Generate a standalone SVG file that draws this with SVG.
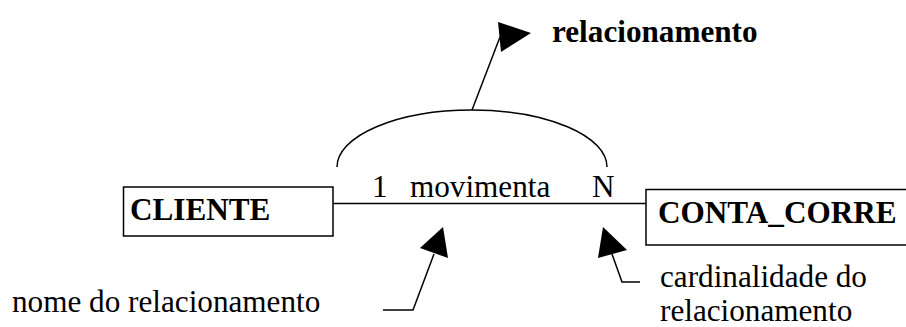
<svg xmlns="http://www.w3.org/2000/svg" width="906" height="327" viewBox="0 0 906 327">
  <style>
    .box { fill: #ffffff; stroke: #000000; stroke-width: 1.5; }
    .ln { fill: none; stroke: #000000; stroke-width: 1.5; }
    .head { fill: #000000; stroke: none; }
    text { font-family: "Liberation Serif", Tinos, "Times New Roman", Times, "DejaVu Serif", "Noto Serif", serif; font-size: 31.2px; fill: #000000; }
    .ent, .title { font-weight: bold; }
  </style>
  <rect width="906" height="327" fill="#ffffff"/>

  <g id="connectors">
    <!-- relationship line between the two entities -->
    <line class="ln" x1="333" y1="203.5" x2="646" y2="203.5"/>
    <!-- bracket over the relationship -->
    <path class="ln" d="M 337 167 A 135 57 0 0 1 607 167"/>
    <!-- pointer to "relacionamento" -->
    <line class="ln" x1="472" y1="110" x2="500" y2="37"/>
    <polygon class="head" points="498,22 531,33 501,52"/>
    <!-- pointer from "nome do relacionamento" -->
    <polyline class="ln" points="383,310 413,310 434,254"/>
    <polygon class="head" points="443,227 420,248 448,258"/>
    <!-- pointer from "cardinalidade do relacionamento" -->
    <polyline class="ln" points="640,282 622,282 612,254"/>
    <polygon class="head" points="603,227 598,258 627,250"/>
  </g>

  <g id="cliente">
    <rect class="box" x="123.5" y="187" width="209.5" height="49"/>
    <text class="ent" x="130" y="220">CLIENTE</text>
  </g>

  <g id="conta_corrente">
    <rect class="box" x="646" y="189.5" width="270" height="55.5"/>
    <text class="ent" x="658" y="222.5">CONTA_CORRE</text>
  </g>

  <g id="relationship">
    <text class="lbl" x="372" y="196.5">1</text>
    <text class="lbl" x="410" y="196.5">movimenta</text>
    <text class="lbl" x="592" y="196.5">N</text>
  </g>

  <g id="notes">
    <text class="title" x="552" y="41.5">relacionamento</text>
    <text class="lbl" x="12" y="311.5">nome do relacionamento</text>
    <text class="lbl" x="660" y="286.5">cardinalidade do</text>
    <text class="lbl" x="660" y="320.5">relacionamento</text>
  </g>
</svg>
